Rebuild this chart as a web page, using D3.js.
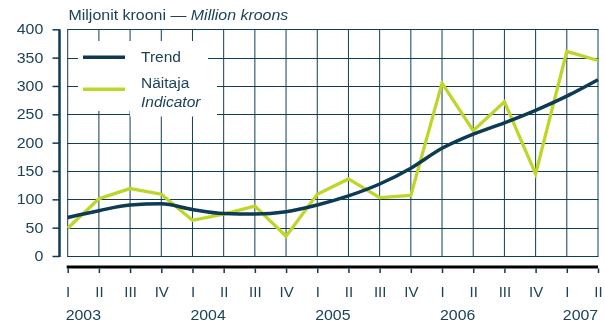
<!DOCTYPE html>
<html>
<head>
<meta charset="utf-8">
<script src="https://cdn.jsdelivr.net/npm/d3@7"></script>
<style>
  html, body { margin: 0; padding: 0; background: #fff; }
  svg { display: block; font-family: "Liberation Sans", Arial, sans-serif; will-change: transform; }
</style>
</head>
<body>
<svg id="chart" width="605" height="322"></svg>
<script>
// Quarterly series, 2003 Q1 – 2007 Q2
const quarters = ["I","II","III","IV","I","II","III","IV","I","II","III","IV","I","II","III","IV","I","II"];
const years = ["2003","2004","2005","2006","2007"];
const trend = [68, 80, 90, 92, 82, 75, 74, 78, 90, 106, 127, 155, 190, 215, 235, 257, 282, 311];
const indicator = [49, 101, 119, 109, 63, 74, 88, 35, 109, 136, 103, 107, 305, 221, 272, 145, 361, 345];
const yTicks = [0, 50, 100, 150, 200, 250, 300, 350, 400];

const textColor = "#1c4258";
const gridColor = "#123e53";
const trendColor = "#0c3b53";
const indColor = "#bed62a";
const wide = 1.14; // horizontal stretch of the axis-value and title lettering

const svg = d3.select("#chart");

const x = d3.scaleLinear().domain([0, quarters.length - 1]).range([67.7, 598]);
const y = d3.scaleLinear().domain([0, 400]).range([256, 29.3]);

// Grid
const grid = svg.append("g");
grid.selectAll("line.h").data(yTicks).join("line")
  .attr("x1", x(0) - 0.5).attr("x2", x(quarters.length - 1) + 0.5)
  .attr("y1", d => Math.round(y(d)) + 0.5).attr("y2", d => Math.round(y(d)) + 0.5)
  .attr("stroke", gridColor).attr("stroke-width", 1);
grid.selectAll("line.v").data(quarters.map((q, i) => i)).join("line")
  .attr("x1", d => x(d)).attr("x2", d => x(d))
  .attr("y1", y(400)).attr("y2", y(0) + 0.5)
  .attr("stroke", gridColor).attr("stroke-width", 1);

// Y axis
const yAxis = d3.axisLeft(y).tickValues(yTicks).tickSize(7).tickPadding(9);
const yg = svg.append("g").attr("transform", "translate(59.5,0)").call(yAxis);
yg.select(".domain").attr("stroke", trendColor).attr("stroke-width", 2.5)
  .attr("d", `M0,${y(400)}V${y(0) + 1}`);
yg.selectAll(".tick line").attr("stroke", trendColor).attr("stroke-width", 1.5);
yg.selectAll(".tick text").attr("fill", textColor).attr("font-size", 14)
  .attr("font-family", "Liberation Sans, Arial, sans-serif")
  .attr("x", -16.2 / wide).attr("transform", `scale(${wide},1)`);

// X axis
const xAxis = d3.axisBottom(x).tickValues(quarters.map((q, i) => i))
  .tickFormat(i => quarters[i]).tickSize(5).tickPadding(14);
const xg = svg.append("g").attr("transform", "translate(0,267)").call(xAxis);
xg.select(".domain").attr("stroke", "#000").attr("stroke-width", 3)
  .attr("d", `M${x(0) - 1},0H${x(quarters.length - 1)}`);
xg.selectAll(".tick line").attr("stroke", trendColor).attr("stroke-width", 1.5).attr("y1", 1.5).attr("y2", 6);
xg.selectAll(".tick text").attr("fill", textColor).attr("font-size", 15)
  .attr("font-family", "Liberation Sans, Arial, sans-serif");

// Year labels centred between quarters I and II
svg.append("g").selectAll("text").data(years).join("text")
  .attr("transform", (d, i) => `translate(${Math.min((x(i * 4) + x(i * 4 + 1)) / 2, 580.5)},320) scale(1.06,1)`)
  .attr("text-anchor", "middle")
  .attr("fill", textColor).attr("font-size", 15)
  .text(d => d);

// Title
const title = svg.append("text").attr("transform", `translate(68.5,20) scale(${wide},1)`)
  .attr("fill", textColor).attr("font-size", 14);
title.append("tspan").text("Miljonit krooni — ");
title.append("tspan").attr("font-style", "italic").text("Million kroons");

// Series
const line = d3.line().x((d, i) => x(i)).y(d => y(d));
svg.append("path").datum(indicator).attr("d", line)
  .attr("fill", "none").attr("stroke", indColor).attr("stroke-width", 3.3)
  .attr("stroke-linejoin", "miter");
svg.append("path").datum(trend).attr("d", line.curve(d3.curveMonotoneX))
  .attr("fill", "none").attr("stroke", trendColor).attr("stroke-width", 3.5);

// Legend
const legend = svg.append("g");
legend.append("rect").attr("x", 78).attr("y", 41).attr("width", 130).attr("height", 70).attr("fill", "#fff");
legend.append("rect").attr("x", 130).attr("y", 66).attr("width", 87).attr("height", 50.5).attr("fill", "#fff");
const items = [
  { label: ["Trend"], color: trendColor, ly: 57.3, ty: 62 },
  { label: ["Näitaja", "Indicator"], color: indColor, ly: 89.3, ty: 88 }
];
items.forEach(it => {
  legend.append("line").attr("x1", 83).attr("x2", 125).attr("y1", it.ly).attr("y2", it.ly)
    .attr("stroke", it.color).attr("stroke-width", 3.6);
  it.label.forEach((t, k) => {
    legend.append("text").attr("x", 141).attr("y", it.ty + k * 19)
      .attr("fill", textColor).attr("font-size", 15.5)
      .attr("font-style", k === 1 ? "italic" : "normal").text(t);
  });
});
</script>
</body>
</html>
